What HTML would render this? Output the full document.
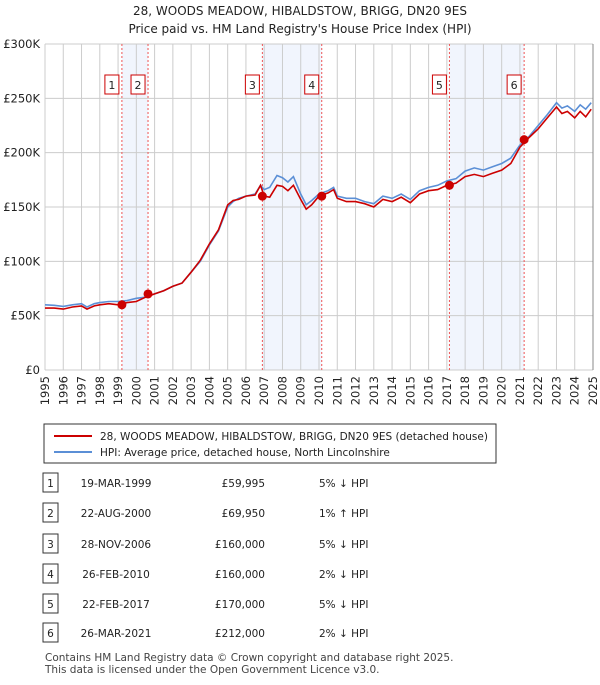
<!DOCTYPE html>
<html><head><meta charset="utf-8"><style>
body{margin:0;background:#fff;font-family:"Liberation Sans","DejaVu Sans",sans-serif;}
svg text{font-family:"DejaVu Sans","Liberation Sans",sans-serif;}
</style></head><body>
<svg id="c" width="600" height="680" viewBox="0 0 600 680" xmlns="http://www.w3.org/2000/svg">
<text x="300" y="15" text-anchor="middle" font-size="12" fill="#222">28, WOODS MEADOW, HIBALDSTOW, BRIGG, DN20 9ES</text>
<text x="300" y="33" text-anchor="middle" font-size="12" fill="#222">Price paid vs. HM Land Registry's House Price Index (HPI)</text>
<g id="plot"></g>
<g>
<rect x="44" y="424" width="452" height="39" fill="#fff" stroke="#333" stroke-width="1"/>
<line x1="54" y1="436" x2="92" y2="436" stroke="#cc0000" stroke-width="2"/>
<text x="100" y="440" font-size="10.5" fill="#222">28, WOODS MEADOW, HIBALDSTOW, BRIGG, DN20 9ES (detached house)</text>
<line x1="54" y1="452" x2="92" y2="452" stroke="#5b8fd6" stroke-width="2"/>
<text x="100" y="456" font-size="10.5" fill="#222">HPI: Average price, detached house, North Lincolnshire</text>
</g>
<g id="table"></g>
<text x="45" y="661" font-size="10.5" fill="#444">Contains HM Land Registry data © Crown copyright and database right 2025.</text>
<text x="45" y="673" font-size="10.5" fill="#444">This data is licensed under the Open Government Licence v3.0.</text>
</svg>
<script>
const dates=[1995,1995.5,1996,1996.5,1997,1997.3,1997.7,1998,1998.5,1999,1999.5,2000,2000.5,2001,2001.5,2002,2002.5,2003,2003.5,2004,2004.5,2005,2005.3,2005.6,2006,2006.5,2006.8,2007,2007.3,2007.7,2008,2008.3,2008.6,2009,2009.3,2009.6,2010,2010.5,2010.8,2011,2011.5,2012,2012.5,2013,2013.5,2014,2014.5,2015,2015.5,2016,2016.5,2017,2017.5,2018,2018.5,2019,2019.5,2020,2020.5,2021,2021.5,2022,2022.5,2023,2023.3,2023.6,2024,2024.3,2024.6,2024.9];
const hpi=[60,59.5,58.5,60,61,58,61,62,63,63,64,66,67,70,73,77,80,90,100,115,128,150,155,158,160,162,170,166,168,179,177,173,178,162,152,156,162,165,168,160,158,158,155,153,160,158,162,157,165,168,170,174,176,183,186,184,187,190,195,207,215,225,235,246,241,243,238,244,240,246];
const price=[57,57,56,58,59,56,59,60,61,60,62,63,67,70,73,77,80,90,101,116,129,152,156,157,160,161,170,160,159,170,169,165,170,157,148,152,160,163,166,158,155,155,153,150,157,155,159,154,162,165,166,170,172,178,180,178,181,184,190,205,214,222,232,242,236,238,232,238,233,240];
const saleDates=[1999.21,2000.64,2006.9,2010.15,2017.14,2021.23];
const saleValues=[59.995,69.95,160,160,170,212];
const saleDateLabels=["19-MAR-1999","22-AUG-2000","28-NOV-2006","26-FEB-2010","22-FEB-2017","26-MAR-2021"];
const salePriceLabels=["£59,995","£69,950","£160,000","£160,000","£170,000","£212,000"];
const saleHpiLabels=["5% ↓ HPI","1% ↑ HPI","5% ↓ HPI","2% ↓ HPI","5% ↓ HPI","2% ↓ HPI"];
const yTicks=[0,50,100,150,200,250,300];
const yTickLabels=["£0","£50K","£100K","£150K","£200K","£250K","£300K"];
const NS="http://www.w3.org/2000/svg";
const x0=45,x1=593,y0=370,y1=44;
const X=d=>x0+(d-1995)/(2025-1995)*(x1-x0);
const Y=v=>y0-v/300*(y0-y1);
const plot=document.getElementById('plot');
function mk(t,a,p){const e=document.createElementNS(NS,t);for(const k in a)e.setAttribute(k,a[k]);(p||plot).appendChild(e);return e;}
for(let i=0;i<6;i+=2){const r=mk('rect',{x:X(saleDates[i]),y:y1,width:X(saleDates[i+1])-X(saleDates[i]),height:y0-y1,fill:'#eef3fd',opacity:0.8});

}
for(let yr=1995;yr<=2025;yr++){const l=mk('line',{x1:X(yr),x2:X(yr),y1:y1,y2:y0,stroke:'#cccccc','stroke-width':1});


const t=mk('text',{x:0,y:0,transform:`translate(${X(yr)+4},${y0+6}) rotate(-90)`,'text-anchor':'end','font-size':11.5,fill:'#222'});t.textContent=yr;

}
yTicks.forEach((v,i)=>{const l=mk('line',{x1:x0,x2:x1,y1:Y(v),y2:Y(v),stroke:'#cccccc','stroke-width':1});


const t=mk('text',{x:40,y:Y(v)+4,'text-anchor':'end','font-size':11.5,fill:'#222'});t.textContent=yTickLabels[i];

});
saleDates.forEach((d,i)=>{const l=mk('line',{x1:X(d),x2:X(d),y1:y1,y2:y0,stroke:'#ee5555','stroke-width':1,'stroke-dasharray':'2,2'});


const g=mk('g',{});


mk('rect',{x:X(d)-17,y:75,width:14,height:19,fill:'#fff',stroke:'#cc0000','stroke-width':1},g);
const t=mk('text',{x:X(d)-10,y:89,'text-anchor':'middle','font-size':11,fill:'#222'},g);t.textContent=i+1;});
function line(vals,color,name){let p='';dates.forEach((d,i)=>{p+=(i?'L':'M')+X(d).toFixed(1)+','+Y(vals[i]).toFixed(1);});
const e=mk('path',{d:p,fill:'none',stroke:color,'stroke-width':1.6});

}
line(hpi,'#5b8fd6','hpi-line');
line(price,'#cc0000','price-line');
saleDates.forEach((d,i)=>{const c=mk('circle',{cx:X(d),cy:Y(saleValues[i]),r:4.5,fill:'#cc0000'});

});
mk('line',{x1:x1,x2:x1,y1:y1,y2:y0,stroke:'#888','stroke-width':1});
const tb=document.getElementById('table');
const rowY=[483,513,544,574,604,633];
rowY.forEach((ry,i)=>{const g=mk('g',{},tb);


mk('rect',{x:43,y:ry-10,width:15,height:19,fill:'#fff',stroke:'#333','stroke-width':1},g);
let t=mk('text',{x:50.5,y:ry+4,'text-anchor':'middle','font-size':10.5,fill:'#222'},g);t.textContent=i+1;
t=mk('text',{x:116,y:ry+4,'text-anchor':'middle','font-size':10.5,fill:'#222'},g);t.textContent=saleDateLabels[i];
t=mk('text',{x:265,y:ry+4,'text-anchor':'end','font-size':10.5,fill:'#222'},g);t.textContent=salePriceLabels[i];
t=mk('text',{x:319,y:ry+4,'font-size':10.5,fill:'#222'},g);t.textContent=saleHpiLabels[i];});
</script>
</body></html>
